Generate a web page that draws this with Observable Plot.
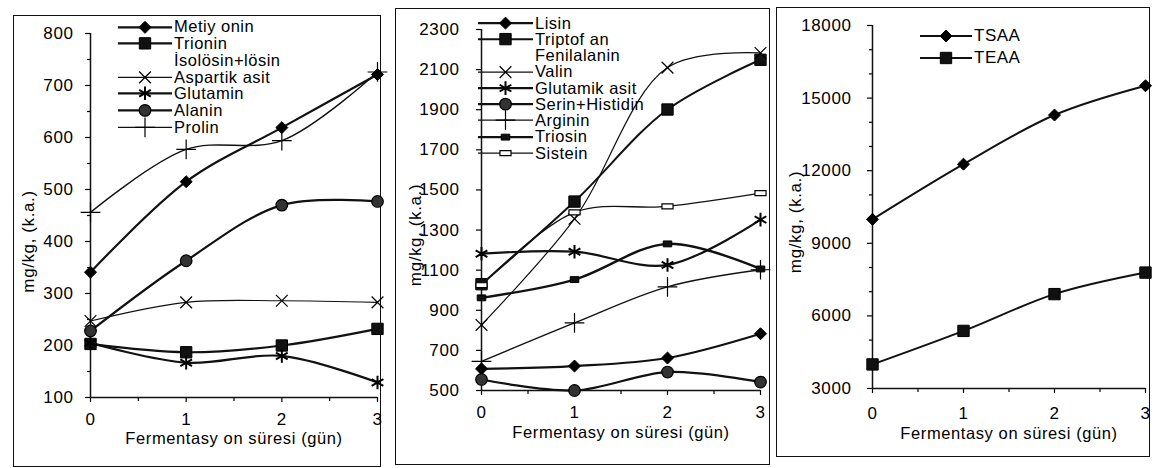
<!DOCTYPE html>
<html><head><meta charset="utf-8">
<script src="https://cdn.jsdelivr.net/npm/d3@7"></script>
<script src="https://cdn.jsdelivr.net/npm/@observablehq/plot@0.6"></script>
<style>
html,body{margin:0;padding:0;background:#fff;}
body{width:1159px;height:468px;position:relative;overflow:hidden;font-family:"Liberation Sans",Arial,sans-serif;color:#000;}
.frame{position:absolute;border:1.5px solid #111;box-sizing:border-box;}
.panel{position:absolute;}
.legend{position:absolute;font-size:16.5px;letter-spacing:0.5px;color:#000;}
.row{display:flex;align-items:center;white-space:nowrap;}
.row svg{display:block;margin-right:2px;overflow:visible;}
</style></head><body>
<script>
// ---------- data ----------
const days = [0, 1, 2, 3];
const xMinor = [0.5, 1.5, 2.5];

// Panel 1
const p1Names = ["Metiy onin", "Trionin", "Aspartik asit", "Glutamin", "Alanin", "Prolin"];
const p1NameExtra = ["", "İsolösin+lösin", "", "", "", ""];
const metiyonin = [341, 515, 619, 721];
const trionin   = [203, 187, 200, 232];
const aspartik  = [247, 283, 286, 283];
const glutamin  = [205, 167, 180, 129];
const alanin    = [228, 363, 470, 477];
const prolin    = [456, 577, 594, 726];
const p1Ticks = [100, 200, 300, 400, 500, 600, 700, 800];
const p1Minor = [150, 250, 350, 450, 550, 650, 750];

// Panel 2
const p2Names = ["Lisin", "Triptof an", "Valin", "Glutamik asit", "Serin+Histidin", "Arginin", "Triosin", "Sistein"];
const p2NameExtra = ["", "Fenilalanin", "", "", "", "", "", ""];
const lisin     = [608, 622, 662, 783];
const triptofan = [1030, 1442, 1901, 2149];
const valin     = [827, 1356, 2110, 2183];
const glutamik  = [1182, 1192, 1126, 1352];
const serin     = [555, 500, 592, 542];
const arginin   = [645, 837, 1017, 1102];
const triosin   = [962, 1053, 1231, 1106];
const sistein   = [1025, 1388, 1418, 1484];
const p2Ticks = [500, 700, 900, 1100, 1300, 1500, 1700, 1900, 2100, 2300];
const p2Minor = [];

// Panel 3
const p3Names = ["TSAA", "TEAA"];
const tsaa = [9990, 12270, 14300, 15510];
const teaa = [3995, 5380, 6900, 7790];
const p3Ticks = [3000, 6000, 9000, 12000, 15000, 18000];
const p3Minor = [4000, 5000, 7000, 8000, 10000, 11000, 13000, 14000, 16000, 17000];

const xTitle = "Fermentasy on süresi (gün)";
const yTitle = "mg/kg, (k.a.)";

// ---------- styles ----------
const smallRect = {draw(ctx, size){const s=Math.sqrt(size);const w=s*1.05,h=s*0.72;ctx.rect(-w/2,-h/2,w,h);}};
const wideRect  = {draw(ctx, size){const s=Math.sqrt(size);const w=s*1.25,h=s*0.55;ctx.rect(-w/2,-h/2,w,h);}};

const sty = {
  diamond:  {symbol:"diamond2", r:5.4, fill:"#000", stroke:"#000", sw:1},
  square:   {symbol:"square",   r:6.4, fill:"#111", stroke:"#000", sw:1},
  times:    {symbol:"times",    r:5.4, fill:"none", stroke:"#000", sw:1.2},
  asterisk: {symbol:"asterisk", r:6.4, fill:"none", stroke:"#000", sw:2},
  circle:   {symbol:"circle",   r:5.8, fill:"#333", stroke:"#000", sw:1.2},
  plus:     {symbol:"plus",     r:6.4, fill:"none", stroke:"#000", sw:1.2},
  srect:    {symbol:smallRect,  r:4.6, fill:"#111", stroke:"#000", sw:1},
  wrect:    {symbol:wideRect,   r:5,   fill:"#fff", stroke:"#000", sw:1.2}
};

const p1Series = [
  {values:metiyonin, ...sty.diamond, lw:2.2},
  {values:trionin,   ...sty.square, lw:2.2},
  {values:aspartik,  ...sty.times, lw:1.1},
  {values:glutamin,  ...sty.asterisk, lw:2.2},
  {values:alanin,    ...sty.circle, lw:2.2},
  {values:prolin,    ...sty.plus, lw:1.4}
].map((s,i)=>({...s, name:p1Names[i], extra:p1NameExtra[i]}));

const p2Series = [
  {values:lisin,     ...sty.diamond, lw:2.2},
  {values:triptofan, ...sty.square, lw:2},
  {values:valin,     ...sty.times, lw:1.2},
  {values:glutamik,  ...sty.asterisk, lw:2.2},
  {values:serin,     ...sty.circle, lw:2.2},
  {values:arginin,   ...sty.plus, lw:1.4},
  {values:triosin,   ...sty.srect, lw:2.4},
  {values:sistein,   ...sty.wrect, lw:1.3}
].map((s,i)=>({...s, name:p2Names[i], extra:p2NameExtra[i]}));

const p3Series = [
  {values:tsaa, ...sty.diamond, lw:2},
  {values:teaa, ...sty.square, lw:2}
].map((s,i)=>({...s, name:p3Names[i], extra:""}));

// ---------- drawing ----------
function addFrame(l,t,r,b){
  const d=document.createElement("div");d.className="frame";
  d.style.left=l+"px";d.style.top=t+"px";d.style.width=(r-l)+"px";d.style.height=(b-t)+"px";
  document.body.appendChild(d);
}

const fmt = d3.format("d");

function makePanel(c){
  const marks = [
    Plot.axisY(c.yMinor, {anchor:"left", tickSize:3, tickFormat:()=> "", label:null, strokeWidth:1.2}),
    Plot.axisY(c.yTicks, {anchor:"left", tickSize:5, tickPadding:c.yPad, tickFormat:fmt, label:null, fontSize:17, strokeWidth:1.2}),
    Plot.axisX(xMinor, {anchor:"bottom", tickSize:4, tickFormat:()=> "", label:null, strokeWidth:1.2}),
    Plot.axisX(days, {anchor:"bottom", tickSize:5, tickPadding:c.xPad, tickFormat:fmt, label:null, fontSize:17, strokeWidth:1.2}),
    Plot.ruleX([0], {stroke:"#111", strokeWidth:1.5}),
    Plot.ruleY([c.yDomain[0]], {stroke:"#111", strokeWidth:1.5})
  ];
  c.series.forEach(s=>{
    const data = days.map((d,i)=>({day:d, v:s.values[i]}));
    marks.push(Plot.line(data, {x:"day", y:"v", curve:"catmull-rom", stroke:"#111", strokeWidth:s.lw}));
  });
  c.series.forEach(s=>{
    const data = days.map((d,i)=>({day:d, v:s.values[i]}));
    marks.push(Plot.dot(data, {x:"day", y:"v", symbol:s.symbol, r:s.r, fill:s.fill, stroke:s.stroke, strokeWidth:s.sw}));
  });
  marks.push(Plot.text([xTitle], {frameAnchor:"bottom", dy:c.titleDy, fontSize:16.5, textAnchor:"middle"}));
  marks.push(Plot.text([yTitle], {frameAnchor:"left", rotate:-90, dx:c.ylDx, dy:c.ylDy, fontSize:17, textAnchor:"middle"}));
  const svg = Plot.plot({
    width:c.w, height:c.h,
    marginLeft:c.m[0], marginRight:c.m[1], marginTop:c.m[2], marginBottom:c.m[3],
    x:{domain:[0,3]}, y:{domain:c.yDomain},
    style:{fontFamily:"'Liberation Sans', Arial, sans-serif", fontSize:"17px", letterSpacing:"0.6px", color:"#000", background:"transparent", overflow:"visible"},
    marks
  });
  const div=document.createElement("div");div.className="panel";
  div.style.left=c.left+"px";div.style.top=c.top+"px";div.style.width=c.w+"px";div.style.height=c.h+"px";
  div.appendChild(svg);document.body.appendChild(div);
}

function addLegend(series, o){
  const div=document.createElement("div");div.className="legend";
  div.style.left=o.left+"px";div.style.top=(o.firstY - o.rowH/2)+"px";
  if(o.fontSize) div.style.fontSize=o.fontSize+"px";
  const ns="http://www.w3.org/2000/svg";
  const addRow=(s, label)=>{
    const row=document.createElement("div");row.className="row";row.style.height=o.rowH+"px";
    const svg=document.createElementNS(ns,"svg");svg.setAttribute("width",o.swW);svg.setAttribute("height",o.rowH);
    if(s){
      const y=o.rowH/2;
      const ln=document.createElementNS(ns,"line");
      ln.setAttribute("x1",0);ln.setAttribute("x2",o.swW);ln.setAttribute("y1",y);ln.setAttribute("y2",y);
      ln.setAttribute("stroke","#111");ln.setAttribute("stroke-width",Math.max(1.3,s.lw));
      svg.appendChild(ln);
      const type = typeof s.symbol==="string" ? ({diamond2:d3.symbolDiamond2,square:d3.symbolSquare,times:d3.symbolTimes,asterisk:d3.symbolAsterisk,circle:d3.symbolCircle,plus:d3.symbolPlus})[s.symbol] : s.symbol;
      const p=document.createElementNS(ns,"path");
      p.setAttribute("d", d3.symbol(type, Math.PI*s.r*s.r)());
      p.setAttribute("transform",`translate(${o.swW/2},${y})`);
      p.setAttribute("fill",s.fill);p.setAttribute("stroke",s.stroke);p.setAttribute("stroke-width",s.sw);
      svg.appendChild(p);
    }
    row.appendChild(svg);
    const sp=document.createElement("span");sp.textContent=label;row.appendChild(sp);
    div.appendChild(row);
  };
  series.forEach(s=>{addRow(s, s.name); if(s.extra) addRow(null, s.extra);});
  document.body.appendChild(div);
}

// frames
addFrame(13,15,381,467);
addFrame(395,8,770,465);
addFrame(776,7,1150,457);

makePanel({series:p1Series, yDomain:[100,800], yTicks:p1Ticks, yMinor:p1Minor,
  left:13, top:15, w:368, h:452, m:[77,4,18,70], yPad:12, xPad:10, titleDy:46, ylDx:-62, ylDy:26});
makePanel({series:p2Series, yDomain:[500,2300], yTicks:p2Ticks, yMinor:p2Minor,
  left:395, top:8, w:375, h:457, m:[86,10,21,75], yPad:17, xPad:10, titleDy:47, ylDx:-66, ylDy:25});
makePanel({series:p3Series, yDomain:[3000,18000], yTicks:p3Ticks, yMinor:p3Minor,
  left:776, top:7, w:374, h:450, m:[96,5,18,69], yPad:16, xPad:13, titleDy:50, ylDx:-77, ylDy:15});

addLegend(p1Series, {left:118, firstY:27, rowH:16.7, swW:54});
addLegend(p2Series, {left:478, firstY:23, rowH:16.25, swW:55});
addLegend(p3Series, {left:920, firstY:36, rowH:22, swW:52, fontSize:17});
</script>
</body></html>
